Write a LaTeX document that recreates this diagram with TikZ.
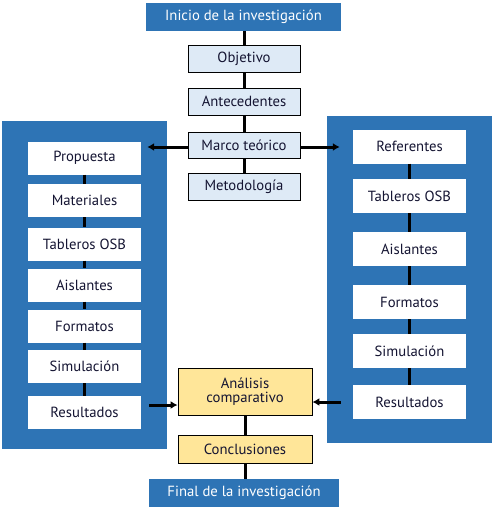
\documentclass[tikz,border=0pt]{standalone}
\usepackage{fontspec}
\setmainfont{PT Sans}
\usetikzlibrary{arrows.meta,calc}
\definecolor{bblue}{HTML}{2E74B5}
\definecolor{lblue}{HTML}{DEEAF6}
\definecolor{lyel}{HTML}{FFE699}
\definecolor{txt}{HTML}{141432}
\tikzset{
  fnt/.style={font=\fontsize{14.7}{15}\selectfont},
  banner/.style={fill=bblue,text=white,minimum height=28pt,inner sep=0pt,fnt},
  lbox/.style={draw=black,line width=0.8pt,fill=lblue,text=txt,minimum width=112pt,minimum height=27pt,inner sep=0pt,fnt},
  panel/.style={fill=bblue,minimum width=165pt,inner sep=0pt},
  wbox/.style={fill=white,text=txt,minimum width=113pt,minimum height=33pt,inner sep=0pt,fnt},
  ybox/.style={draw=black,line width=0.8pt,fill=lyel,text=txt,minimum width=134pt,inner sep=0pt,align=center,fnt},
  conn/.style={line width=3pt,black},
  pconn/.style={line width=2.2pt,black},
  arr/.style={line width=3pt,black,-{Latex[length=7pt,width=8pt]}}
}
\begin{document}
\begin{tikzpicture}[x=1pt,y=-1pt]
\useasboundingbox (0,0) rectangle (497,511);
% panels
\node[panel,minimum height=328pt] (pl) at (84.5,285) {};
\node[panel,minimum height=327pt] (pr) at (409.5,279.5) {};
% central column
\node[banner,minimum width=195pt] (ini) at (243.5,17) {Inicio de la investigación};
\node[lbox] (obj) at (244,58.5) {Objetivo};
\node[lbox] (ant) at (244,101.5) {Antecedentes};
\node[lbox,minimum height=26pt] (mar) at (244,145) {Marco teórico};
\node[lbox] (met) at (244,186.5) {Metodología};
\node[ybox,minimum height=47pt] (ana) at (245,391.5) {Análisis\\[-1pt]comparativo};
\node[ybox,minimum height=28pt] (con) at (245,449) {Conclusiones};
\node[banner,minimum width=190pt] (fin) at (244,493) {Final de la investigación};
% left boxes
\node[wbox] (l1) at (84.5,158) {Propuesta};
\node[wbox] (l2) at (84.5,200.5) {Materiales};
\node[wbox] (l3) at (84.5,244) {Tableros OSB};
\node[wbox] (l4) at (84.5,285) {Aislantes};
\node[wbox] (l5) at (84.5,326) {Formatos};
\node[wbox] (l6) at (84.5,366.5) {Simulación};
\node[wbox] (l7) at (84.5,412.5) {Resultados};
% right boxes
\node[wbox,minimum height=34pt] (r1) at (409.5,146.5) {Referentes};
\node[wbox,minimum height=34pt] (r2) at (409.5,196) {Tableros OSB};
\node[wbox,minimum height=34pt] (r3) at (409.5,249) {Aislantes};
\node[wbox,minimum height=34pt] (r4) at (409.5,302) {Formatos};
\node[wbox,minimum height=34pt] (r5) at (409.5,351) {Simulación};
\node[wbox,minimum height=34pt] (r6) at (409.5,402) {Resultados};
% connectors
\draw[conn] (ini.south -| obj.north) -- (obj.north);
\draw[conn] (obj) -- (ant);
\draw[conn] (ant) -- (mar);
\draw[conn] (mar) -- (met);
\draw[conn] (ana) -- (con);
\draw[conn] (con.south) -- (con.south |- fin.north);
\foreach \a/\b in {l1/l2,l2/l3,l3/l4,l4/l5,l5/l6,l6/l7,r1/r2,r2/r3,r3/r4,r4/r5,r5/r6}
  \draw[pconn] (\a.south) -- (\b.north);
% arrows
\draw[arr] ([yshift=-2pt]mar.west) -- ([yshift=-2pt,xshift=6pt]mar.west -| l1.east);
\draw[arr] ([yshift=-2pt]mar.east) -- ([yshift=-2pt,xshift=-13pt]mar.east -| r1.west);
\draw[arr] ([xshift=8pt,yshift=7.5pt]l7.east) -- ([yshift=7.5pt]l7.east -| ana.west);
\draw[arr] ([xshift=-12pt]r6.west) -- (r6.west -| ana.east);
\end{tikzpicture}
\end{document}
